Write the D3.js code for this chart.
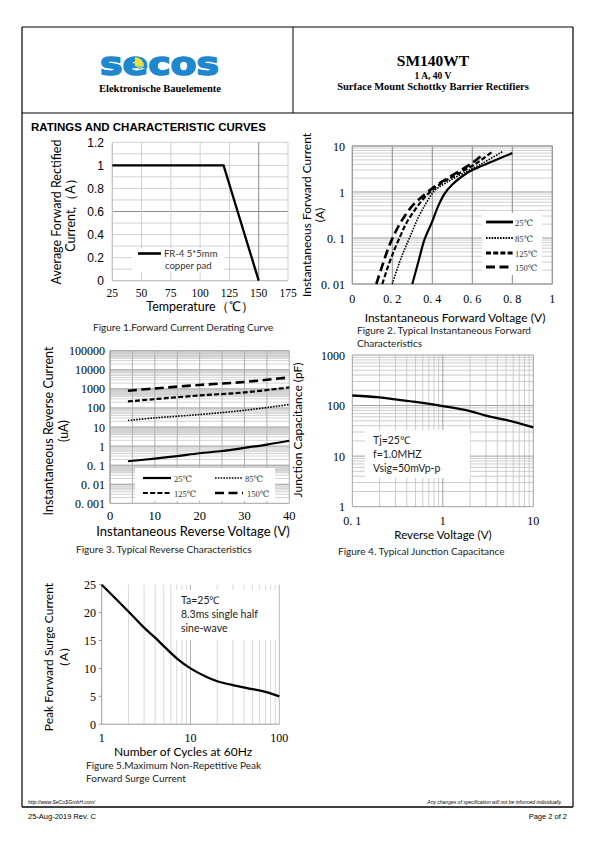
<!DOCTYPE html>
<html><head><meta charset="utf-8">
<script src="https://cdn.jsdelivr.net/npm/d3@7"></script>
<style>body{margin:0;background:#fff}svg{display:block}</style>
</head><body>
<script>
// ---------- DATA ----------
// Fig 1: derating
const f1Temp = [25, 120, 150];
const f1Curr = [1, 1, 0];
const f1XTicks = [25, 50, 75, 100, 125, 150, 175];
const f1YTicks = [0, 0.2, 0.4, 0.6, 0.8, 1, 1.2];

// Fig 2: forward characteristics (V, A)
const f2V25  = [0.30,0.33,0.36,0.40,0.43,0.46,0.50,0.55,0.60,0.70,0.80];
const f2I25  = [0.01,0.03,0.09,0.23,0.50,0.90,1.45,2.2,3.0,4.6,7.0];
const f2V85  = [0.20,0.23,0.26,0.29,0.33,0.37,0.41,0.47,0.55,0.65,0.75];
const f2I85  = [0.01,0.025,0.055,0.11,0.28,0.58,1.05,1.6,2.5,4.2,7.5];
const f2V125 = [0.15,0.18,0.21,0.24,0.27,0.32,0.36,0.40,0.46,0.53,0.62,0.70];
const f2I125 = [0.01,0.025,0.055,0.11,0.21,0.45,0.75,1.1,1.7,2.5,4.2,7.5];
const f2V150 = [0.12,0.15,0.18,0.21,0.25,0.30,0.35,0.40,0.45,0.52,0.60,0.66];
const f2I150 = [0.01,0.025,0.06,0.12,0.25,0.50,0.80,1.2,1.7,2.6,4.3,7.0];
const f2XTicks = [0, 0.2, 0.4, 0.6, 0.8, 1];
const f2XLabels = ["0", "0. 2", "0. 4", "0. 6", "0. 8", "1"];
const f2YTicks = [0.01, 0.1, 1, 10];
const f2YLabels = ["0. 01", "0. 1", "1", "10"];

// Fig 3: reverse characteristics (V, uA)
const f3V25  = [4, 10, 15, 20, 25, 30, 35, 40];
const f3I25  = [0.16, 0.22, 0.30, 0.42, 0.55, 0.80, 1.2, 1.9];
const f3V85  = [4, 10, 20, 30, 40];
const f3I85  = [22, 30, 45, 75, 150];
const f3V125 = [4, 10, 20, 30, 40];
const f3I125 = [220, 290, 450, 650, 1200];
const f3V150 = [4, 10, 20, 30, 40];
const f3I150 = [800, 1050, 1600, 2300, 4000];
const f3XTicks = [0, 10, 20, 30, 40];
const f3YTicks = [0.001, 0.01, 0.1, 1, 10, 100, 1000, 10000, 100000];
const f3YLabels = ["0. 001", "0. 01", "0. 1", "1", "10", "100", "1000", "10000", "100000"];

// Fig 4: junction capacitance (V, pF)
const f4V = [0.1, 0.2, 0.3, 0.5, 1, 2, 3, 5, 10];
const f4C = [158, 145, 132, 118, 98, 78, 63, 52, 37];
const f4XTicks = [0.1, 1, 10];
const f4XLabels = ["0. 1", "1", "10"];
const f4YTicks = [1, 10, 100, 1000];

// Fig 5: surge current (cycles, A)
const f5N = [1, 2, 3, 4, 5, 7, 10, 15, 20, 30, 50, 70, 100];
const f5I = [25, 20.2, 17.3, 15.5, 14.0, 11.8, 10, 8.5, 7.7, 7.0, 6.3, 5.8, 5.0];
const f5XTicks = [1, 10, 100];
const f5YTicks = [0, 5, 10, 15, 20, 25];

// ---------- DRAW ----------
const SANS = "Lato, 'Open Sans', sans-serif";
const SERIF = "'Liberation Serif', 'DejaVu Serif', serif";
const ARIAL = "'Liberation Sans', Arial, sans-serif";
const svg = d3.select("body").append("svg").attr("width", 595).attr("height", 842);

function txt(x, y, s, o = {}) {
  const t = svg.append("text").attr("x", x).attr("y", y).text(s)
    .attr("font-family", o.f || SANS).attr("font-size", o.s || 10)
    .attr("fill", o.c || "#000").attr("text-anchor", o.a || "start");
  if (o.w) t.attr("font-weight", o.w);
  if (o.i) t.attr("font-style", "italic");
  if (o.r) t.attr("transform", `rotate(-90,${x},${y})`);
  if (o.len) t.attr("textLength", o.len).attr("lengthAdjust", "spacingAndGlyphs");
  return t;
}
function line(x1, y1, x2, y2, c, w, g) {
  return (g || svg).append("line").attr("x1", x1).attr("y1", y1).attr("x2", x2).attr("y2", y2)
    .attr("stroke", c).attr("stroke-width", w);
}

// page frame
line(22, 27, 573, 27, "#000", 1.2);
line(22, 113, 573, 113, "#000", 1.2);
line(22, 27, 22, 807, "#000", 1.2);
line(573, 27, 573, 807, "#000", 1.2);
line(293, 27, 293, 113, "#000", 1);
line(22, 807, 573, 807, "#000", 1.5);

// logo
svg.append("text").attr("x", 100).attr("y", 75).text("secos")
  .attr("font-family", "'DejaVu Sans', sans-serif").attr("font-weight", "bold")
  .attr("font-size", 32).attr("fill", "#1f87cf").attr("stroke", "#1f87cf").attr("stroke-width", 1.6)
  .attr("textLength", 119).attr("lengthAdjust", "spacingAndGlyphs");
svg.append("path").attr("d", "M135,57 L135,66 L144,66 A9,9 0 0 0 135,57 Z").attr("fill", "#e8e23a");
svg.append("path").attr("d", "M135,66 L144,66 L140,70 Z").attr("fill", "#8cc8a0");
txt(160, 92, "Elektronische Bauelemente", { f: SERIF, s: 10.5, w: "bold", a: "middle" });
txt(433, 66, "SM140WT", { f: SERIF, s: 15.5, w: "bold", a: "middle" });
txt(433, 78.5, "1 A, 40 V", { f: SERIF, s: 9.5, w: "bold", a: "middle" });
txt(433, 89.5, "Surface Mount Schottky Barrier Rectifiers", { f: SERIF, s: 10.5, w: "bold", a: "middle" });

txt(31, 131, "RATINGS AND CHARACTERISTIC CURVES", { f: ARIAL, s: 11.5, w: "bold" });

// footer
txt(28, 804, "http://www.SeCoSGmbH.com/", { f: ARIAL, s: 5, i: true });
txt(562, 804, "Any changes of specification will not be informed individually.", { f: ARIAL, s: 5, i: true, a: "end" });
txt(28, 819, "25-Aug-2019 Rev. C", { f: ARIAL, s: 7.5 });
txt(567, 819, "Page  2  of  2", { f: ARIAL, s: 7.5, a: "end" });

function drawPath(g, xs, ys, sx, sy, style, linear) {
  const pts = xs.map((v, i) => [sx(v), sy(ys[i])]);
  const gen = linear ? d3.line() : d3.line().curve(d3.curveCatmullRom.alpha(0.5));
  g.append("path").attr("d", gen(pts))
    .attr("fill", "none").attr("stroke", "#000").attr("stroke-width", style.w)
    .attr("stroke-dasharray", style.d || null).attr("stroke-linejoin", "round");
}
const S25 = { w: 2.2 }, S85 = { w: 1.6, d: "1.6,1.2" }, S125 = { w: 2.2, d: "5,2.2" }, S150 = { w: 2.6, d: "9,4.5" };

// ---------- FIGURE 1 ----------
{
  const g = svg.append("g");
  const x = d3.scaleLinear().domain([25, 175]).range([112.3, 288]);
  const y = d3.scaleLinear().domain([0, 1.2]).range([280.7, 142.3]);
  d3.range(0, 1.21, 0.1).forEach(v => line(x(25), y(v), x(175), y(v), Math.abs(v - 0.6) < 1e-6 ? "#8a8a8a" : "#d0d0d0", 1, g));
  f1XTicks.forEach(v => line(x(v), y(0), x(v), y(1.2), v === 150 ? "#8a8a8a" : "#d0d0d0", 1, g));
  line(x(25), y(0), x(25), y(1.2), "#bdbdbd", 1, g);
  line(x(25), y(0), x(175), y(0), "#bdbdbd", 1, g);
  g.append("rect").attr("x", 132).attr("y", 248).attr("width", 92).attr("height", 24).attr("fill", "#fff");
  drawPath(g, f1Temp, f1Curr, x, y, { w: 2.3 }, true);
  line(138, 253.5, 161, 253.5, "#000", 2.6, g);
  txt(164, 257, "FR-4  5*5mm", { s: 9.5, c: "#333" });
  txt(165, 269, "copper pad", { s: 9.5, c: "#333" });
  f1YTicks.forEach(v => txt(104, y(v) + 4.5, String(v), { f: ARIAL, s: 12, a: "end" }));
  f1XTicks.forEach(v => txt(x(v), 297, String(v), { f: SERIF, s: 11.5, a: "middle" }));
  txt(200, 311, "Temperature（℃）", { s: 12.5, a: "middle" });
  txt(61, 212, "Average  Forward  Rectified", { s: 12.5, a: "middle", r: true });
  txt(75, 212, "Current,（A）", { s: 12.5, a: "middle", r: true });
  txt(93, 331, "Figure 1.Forward Current Derating Curve", { s: 10, c: "#222" });
}

// ---------- FIGURE 2 ----------
{
  const g = svg.append("g");
  const x = d3.scaleLinear().domain([0, 1]).range([352.3, 552.3]);
  const y = d3.scaleLog().domain([0.01, 10]).range([284, 146]);
  [0.01, 0.1, 1].forEach(d => d3.range(2, 10).forEach(m => line(x(0), y(d * m), x(1), y(d * m), "#c4c4c4", 0.8, g)));
  f2YTicks.forEach(v => line(x(0), y(v), x(1), y(v), "#9a9a9a", 1, g));
  f2XTicks.forEach(v => line(x(v), y(0.01), x(v), y(10), "#8a8a8a", 1, g));
  g.append("rect").attr("x", x(0)).attr("y", y(10)).attr("width", x(1) - x(0)).attr("height", y(0.01) - y(10))
    .attr("fill", "none").attr("stroke", "#9a9a9a");
  const cg = g.append("g");
  drawPath(cg, f2V25, f2I25, x, y, S25);
  drawPath(cg, f2V85, f2I85, x, y, S85);
  drawPath(cg, f2V125, f2I125, x, y, S125);
  drawPath(cg, f2V150, f2I150, x, y, S150);
  g.append("rect").attr("x", 482).attr("y", 213).attr("width", 60).attr("height", 62).attr("fill", "#fff");
  const leg = [["25℃", S25, 222], ["85℃", S85, 238], ["125℃", S125, 253], ["150℃", S150, 267]];
  leg.forEach(([t, s, yy]) => {
    line(486, yy, 513, yy, "#000", s.w + 0.6, g).attr("stroke-dasharray", s.d || null);
    txt(515, yy + 3.5, t, { f: SERIF, s: 8.5, c: "#333" });
  });
  f2YTicks.forEach((v, i) => txt(345, y(v) + 4.5, f2YLabels[i], { f: SERIF, s: 12, a: "end" }));
  f2XTicks.forEach((v, i) => txt(x(v), 303, f2XLabels[i], { f: SERIF, s: 12, a: "middle" }));
  txt(455, 322, "Instantaneous Forward Voltage (V)", { s: 12, a: "middle" });
  txt(311, 215, "Instantaneous Forward Current", { s: 12, a: "middle", r: true });
  txt(324, 215, "(A)", { s: 12, a: "middle", r: true });
  txt(357, 334, "Figure 2. Typical Instantaneous Forward", { s: 10, c: "#222" });
  txt(357, 347, "Characteristics", { s: 10, c: "#222" });
}

// ---------- FIGURE 3 ----------
{
  const g = svg.append("g");
  const x = d3.scaleLinear().domain([0, 40]).range([110, 289.3]);
  const y = d3.scaleLog().domain([0.001, 100000]).range([503.3, 350.7]);
  [0.01, 1, 100, 10000].forEach(d => g.append("rect").attr("x", x(0)).attr("y", y(d * 10)).attr("width", x(40) - x(0))
    .attr("height", y(d * 4) - y(d * 10)).attr("fill", "#e2e2e2"));
  f3YTicks.slice(0, -1).forEach(d => d3.range(2, 10).forEach(m => line(x(0), y(d * m), x(40), y(d * m), "#c8c8c8", 0.8, g)));
  f3YTicks.forEach(v => line(x(0), y(v), x(40), y(v), "#a0a0a0", 1, g));
  d3.range(0, 41, 5).forEach(v => line(x(v), y(0.001), x(v), y(100000), "#b0b0b0", 1, g));
  line(x(0), y(0.001), x(0), y(100000), "#9a9a9a", 1, g);
  const cg = g.append("g");
  drawPath(cg, f3V25, f3I25, x, y, S25);
  drawPath(cg, f3V85, f3I85, x, y, S85);
  drawPath(cg, f3V125, f3I125, x, y, S125);
  drawPath(cg, f3V150, f3I150, x, y, S150);
  g.append("rect").attr("x", 135).attr("y", 468).attr("width", 140).attr("height", 33).attr("fill", "#fff");
  const leg = [["25℃", S25, 143, 478, 174], ["85℃", S85, 215, 478, 245], ["125℃", S125, 143, 493, 174], ["150℃", S150, 215, 493, 247]];
  leg.forEach(([t, s, lx, ly, tx]) => {
    line(lx, ly, lx + 28, ly, "#000", s.w, g).attr("stroke-dasharray", s.d || null);
    txt(tx, ly + 3.5, t, { f: SERIF, s: 8.5, c: "#333" });
  });
  f3YTicks.forEach((v, i) => txt(105, y(v) + 4.5, f3YLabels[i], { f: SERIF, s: 12, a: "end" }));
  f3XTicks.forEach(v => txt(x(v), 520, String(v), { f: SERIF, s: 12.5, a: "middle" }));
  txt(193, 536, "Instantaneous Reverse Voltage (V)", { s: 13, a: "middle" });
  txt(53, 431, "Instantaneous Reverse Current", { s: 12.5, a: "middle", r: true });
  txt(68, 431, "(uA)", { s: 12.5, a: "middle", r: true });
  txt(76, 553, "Figure 3. Typical Reverse Characteristics", { s: 10, c: "#222" });
}

// ---------- FIGURE 4 ----------
{
  const g = svg.append("g");
  const x = d3.scaleLog().domain([0.1, 10]).range([352.3, 533.3]);
  const y = d3.scaleLog().domain([1, 1000]).range([506.7, 355]);
  [1, 10, 100].forEach(d => d3.range(2, 10).forEach(m => line(x(0.1), y(d * m), x(10), y(d * m), "#c0c0c0", 0.8, g)));
  [0.1, 1].forEach(d => d3.range(2, 10).forEach(m => line(x(d * m), y(1), x(d * m), y(1000), "#c0c0c0", 0.8, g)));
  f4YTicks.forEach(v => line(x(0.1), y(v), x(10), y(v), "#a0a0a0", 1, g));
  f4XTicks.forEach(v => line(x(v), y(1), x(v), y(1000), "#a0a0a0", 1, g));
  g.append("rect").attr("x", 365).attr("y", 430).attr("width", 105).attr("height", 48).attr("fill", "#fff");
  drawPath(g, f4V, f4C, x, y, { w: 2.3 });
  txt(373, 444, "Tj=25℃", { s: 10.5, c: "#222" });
  txt(373, 458, "f=1.0MHZ", { s: 10.5, c: "#222" });
  txt(373, 472, "Vsig=50mVp-p", { s: 10.5, c: "#222" });
  f4YTicks.forEach(v => txt(345, y(v) + 4.5, String(v), { f: SERIF, s: 12, a: "end" }));
  f4XTicks.forEach((v, i) => txt(x(v), 525, f4XLabels[i], { f: SERIF, s: 12, a: "middle" }));
  txt(443, 539, "Reverse Voltage (V)", { s: 11.5, a: "middle" });
  txt(302, 430, "Junction Capacitance (pF)", { s: 12, a: "middle", r: true });
  txt(338, 555, "Figure 4. Typical Junction Capacitance", { s: 10, c: "#222" });
}

// ---------- FIGURE 5 ----------
{
  const g = svg.append("g");
  const x = d3.scaleLog().domain([1, 100]).range([101.7, 279.3]);
  const y = d3.scaleLinear().domain([0, 25]).range([724.2, 584.7]);
  [1, 10].forEach(d => d3.range(2, 10).forEach(m => line(x(d * m), y(0), x(d * m), y(25), "#cfcfcf", 0.8, g)));
  [10, 100].forEach(v => line(x(v), y(0), x(v), y(25), "#b8b8b8", 1, g));
  line(x(1), y(0), x(1), y(25), "#9a9a9a", 1, g);
  line(x(1), y(0), x(100), y(0), "#9a9a9a", 1, g);
  f5YTicks.forEach(v => line(x(1) - 3, y(v), x(1), y(v), "#9a9a9a", 1, g));
  g.append("rect").attr("x", 176).attr("y", 590).attr("width", 100).attr("height", 50).attr("fill", "#fff");
  drawPath(g, f5N, f5I, x, y, { w: 2.3 });
  txt(181, 604, "Ta=25℃", { s: 10.5, c: "#222" });
  txt(181, 618, "8.3ms single half", { s: 10.5, c: "#222" });
  txt(181, 632, "sine-wave", { s: 10.5, c: "#222" });
  f5YTicks.forEach(v => txt(96, y(v) + 4.5, String(v), { f: SERIF, s: 12, a: "end" }));
  f5XTicks.forEach(v => txt(x(v), 742, String(v), { f: SERIF, s: 12, a: "middle" }));
  txt(183, 756, "Number of Cycles at 60Hz", { s: 12, a: "middle" });
  txt(53, 657, "Peak Forward Surge Current", { s: 12, a: "middle", r: true });
  txt(68, 657, "（A）", { s: 12, a: "middle", r: true });
  txt(86, 769, "Figure 5.Maximum Non-Repetitive Peak", { s: 10, c: "#222" });
  txt(86, 782, "Forward Surge Current", { s: 10, c: "#222" });
}
</script>
</body></html>
